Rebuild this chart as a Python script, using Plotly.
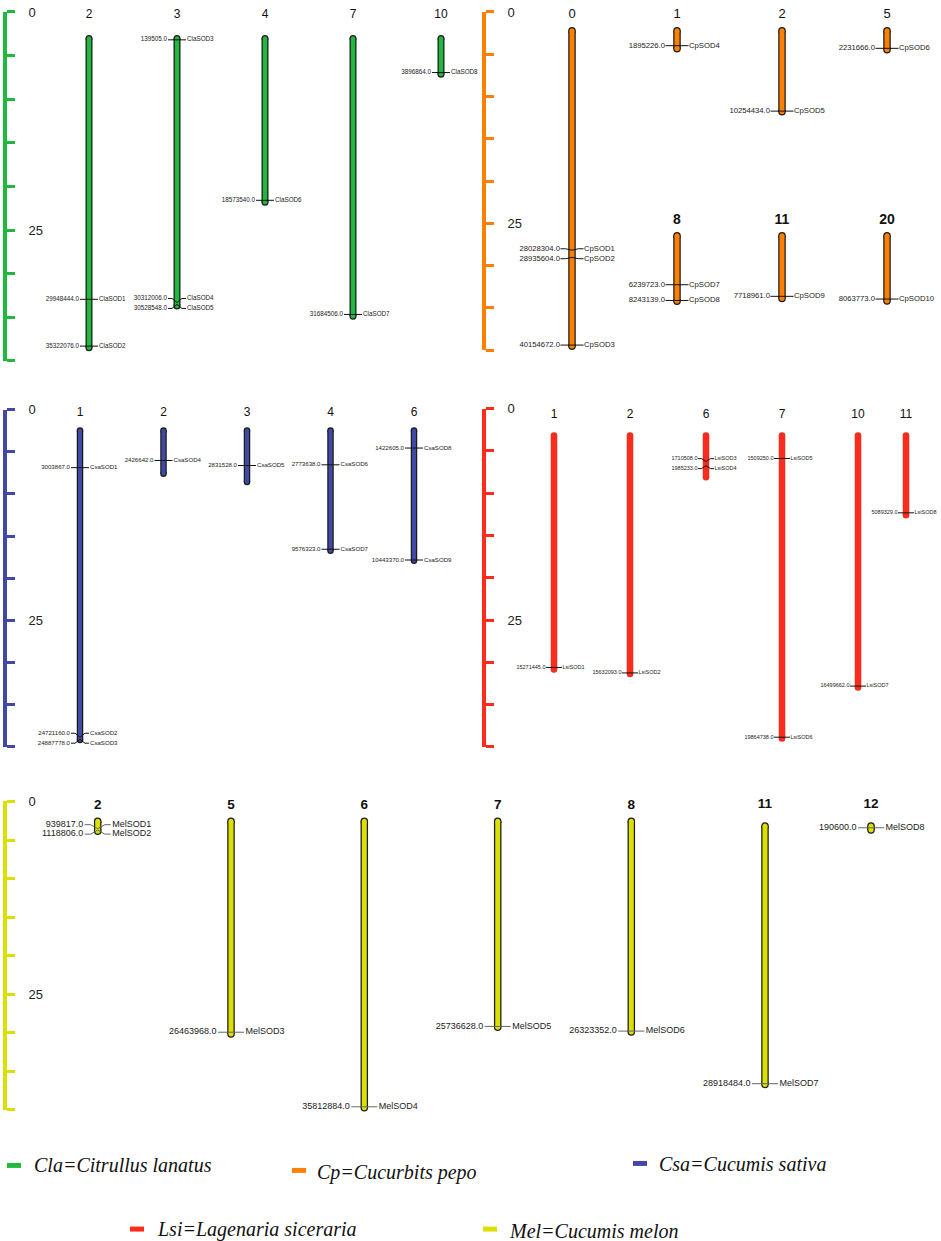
import plotly.graph_objects as go

W, H = 941, 1241

# ---------------- data ----------------
# chromosome lengths in Mb, gene positions in bp
cla_chr = ["2", "3", "4", "7", "10"]
cla_len = [35.5, 30.7, 18.8, 31.9, 4.1]
cla_gene = ["ClaSOD1", "ClaSOD2", "ClaSOD3", "ClaSOD4", "ClaSOD5", "ClaSOD6", "ClaSOD7", "ClaSOD8"]
cla_gene_chr = ["2", "2", "3", "3", "3", "4", "7", "10"]
cla_gene_pos = [29948444, 35322076, 139505, 30312006, 30528548, 18573540, 31684506, 3896864]

cp_chr = ["0", "1", "2", "5", "8", "11", "20"]
cp_len = [40.3, 2.3, 10.35, 2.4, 8.35, 8.0, 8.3]
cp_gene = ["CpSOD1", "CpSOD2", "CpSOD3", "CpSOD4", "CpSOD5", "CpSOD6", "CpSOD7", "CpSOD8", "CpSOD9", "CpSOD10"]
cp_gene_chr = ["0", "0", "0", "1", "2", "5", "8", "8", "11", "20"]
cp_gene_pos = [28028304, 28935604, 40154672, 1895226, 10254434, 2231666, 6239723, 8243139, 7718961, 8063773]

csa_chr = ["1", "2", "3", "4", "6"]
csa_len = [24.95, 3.5, 4.15, 9.7, 10.5]
csa_gene = ["CsaSOD1", "CsaSOD2", "CsaSOD3", "CsaSOD4", "CsaSOD5", "CsaSOD6", "CsaSOD7", "CsaSOD8", "CsaSOD9"]
csa_gene_chr = ["1", "1", "1", "2", "3", "4", "4", "6", "6"]
csa_gene_pos = [3003867, 24721160, 24887778, 2426642, 2831528, 2773638, 9576323, 1422605, 10443370]

lsi_chr = ["1", "2", "6", "7", "10", "11"]
lsi_len = [15.4, 15.7, 2.75, 19.95, 16.6, 5.25]
lsi_gene = ["LsiSOD1", "LsiSOD2", "LsiSOD3", "LsiSOD4", "LsiSOD5", "LsiSOD6", "LsiSOD7", "LsiSOD8"]
lsi_gene_chr = ["1", "2", "6", "6", "7", "7", "10", "11"]
lsi_gene_pos = [15271445, 15632093, 1710508, 1985233, 1509250, 19864738, 16499662, 5089329]

mel_chr = ["2", "5", "6", "7", "8", "11", "12"]
mel_len = [1.25, 26.7, 35.95, 25.85, 26.45, 29.0, 0.45]
mel_gene = ["MelSOD1", "MelSOD2", "MelSOD3", "MelSOD4", "MelSOD5", "MelSOD6", "MelSOD7", "MelSOD8"]
mel_gene_chr = ["2", "2", "5", "6", "7", "8", "11", "12"]
mel_gene_pos = [939817, 1118806, 26463968, 35812884, 25736628, 26323352, 28918484, 190600]

ruler_ticks = [0, 5, 10, 15, 20, 25, 30, 35, 40]
ruler_text = ["0", "", "", "", "", "25", "", "", ""]

legend_code = ["Cla", "Cp", "Csa", "Lsi", "Mel"]
legend_name = ["Citrullus lanatus", "Cucurbits pepo", "Cucumis sativa", "Lagenaria siceraria", "Cucumis melon"]

# ---------------- styling / layout ----------------
SANS = "Liberation Sans, Arial, sans-serif"
SERIF = "Liberation Serif, Times New Roman, serif"

colors = {"Cla": "#20b83e", "Cp": "#ff8000", "Csa": "#4049a6", "Lsi": "#ff2b1c", "Mel": "#dbe000"}

species = {
    "Cla": (cla_chr, cla_len, cla_gene, cla_gene_chr, cla_gene_pos),
    "Cp": (cp_chr, cp_len, cp_gene, cp_gene_chr, cp_gene_pos),
    "Csa": (csa_chr, csa_len, csa_gene, csa_gene_chr, csa_gene_pos),
    "Lsi": (lsi_chr, lsi_len, lsi_gene, lsi_gene_chr, lsi_gene_pos),
    "Mel": (mel_chr, mel_len, mel_gene, mel_gene_chr, mel_gene_pos),
}

# each group: chromosomes drawn on one y axis (top = px of 0 Mb, s = px per Mb)
groups = [
    dict(sp="Cla", chrs=["2", "3", "4", "7", "10"], cx=[89, 177, 265, 353, 441], top=31.8, s=8.755,
         box=(0, 365), lab_px=8, lab_font=dict(family=SANS, size=12, color="#111"),
         edge="#1a1a1a", w=7, wi=4.5, gsize=6.3, hl=9, gap=10, gline="#111", sep=10),
    dict(sp="Cp", chrs=["0", "1", "2", "5"], cx=[572, 677, 782, 887], top=24, s=7.87,
         box=(0, 365), lab_px=8, lab_font=dict(family=SANS, size=13, color="#111"),
         edge="#1a1a1a", w=7.5, wi=5, gsize=7.7, hl=11.5, gap=12, gline="#111", sep=10),
    dict(sp="Cp", chrs=["8", "11", "20"], cx=[677, 782, 887], top=230, s=7.9,
         box=(195, 365), lab_px=215, lab_font=dict(family=SANS, size=14, color="#111", weight="bold"),
         edge="#1a1a1a", w=7.5, wi=5, gsize=7.7, hl=11.5, gap=12, gline="#111", sep=10),
    dict(sp="Csa", chrs=["1", "2", "3", "4", "6"], cx=[80, 163.5, 247, 330.5, 414], top=425.8, s=12.48,
         box=(390, 755), lab_px=408, lab_font=dict(family=SANS, size=12, color="#111"),
         edge="#1a1a1a", w=6.5, wi=4, gsize=6.1, hl=9, gap=10, gline="#111", sep=10),
    dict(sp="Lsi", chrs=["1", "2", "6", "7", "10", "11"], cx=[554, 630, 706, 782, 858, 906], top=431, s=15.27,
         box=(390, 755), lab_px=410, lab_font=dict(family=SANS, size=12, color="#111"),
         edge="#c8342a", w=6.5, wi=5.2, gsize=5.5, hl=8, gap=8.5, gline="#111", sep=10),
    dict(sp="Mel", chrs=["2", "5", "6", "7", "8"], cx=[97.7, 231, 364.3, 497.7, 631.3], top=818.8, s=8.02,
         box=(785, 1125), lab_px=803, lab_font=dict(family=SANS, size=13.5, color="#111", weight="bold"),
         edge="#1a1a1a", w=7.5, wi=5, gsize=9, hl=13, gap=14.5, gline="#666", sep=9.5),
    dict(sp="Mel", chrs=["11", "12"], cx=[765, 871], top=823.7, s=8.96,
         box=(785, 1125), lab_px=802.5, lab_font=dict(family=SANS, size=13.5, color="#111", weight="bold"),
         edge="#1a1a1a", w=7.5, wi=5, gsize=9, hl=13, gap=14.5, gline="#666", sep=9.5),
]

rulers = [
    dict(sp="Cla", x=5, y0=5, y1=356),
    dict(sp="Cp", x=484, y0=5, y1=345),
    dict(sp="Csa", x=5, y0=405, y1=744),
    dict(sp="Lsi", x=484, y0=404, y1=744),
    dict(sp="Mel", x=5, y0=799, y1=1109),
]

legend_swatch = [(7, 1165), (292, 1170), (633, 1163), (130, 1229), (483, 1229)]
legend_text = [(32, 1165), (315, 1172), (657, 1164), (155, 1229), (507, 1231)]


def spread(vals, sep):
    # push labels of genes that sit too close together apart, around their mean
    order = sorted(range(len(vals)), key=lambda i: vals[i])
    out = list(vals)
    clusters = []
    for i in order:
        if clusters and vals[i] - vals[clusters[-1][-1]] < sep:
            clusters[-1].append(i)
        else:
            clusters.append([i])
    for cl in clusters:
        m = sum(vals[i] for i in cl) / len(cl)
        n = len(cl)
        for k, i in enumerate(cl):
            out[i] = m + (k - (n - 1) / 2) * sep
    return out


fig = go.Figure()
layout_axes = {}
ax_n = 0

for g in groups:
    ax_n += 1
    yid = "y" if ax_n == 1 else f"y{ax_n}"
    yname = "yaxis" if ax_n == 1 else f"yaxis{ax_n}"
    b0, b1 = g["box"]
    top, s = g["top"], g["s"]
    layout_axes[yname] = dict(domain=[1 - b1 / H, 1 - b0 / H], range=[(b1 - top) / s, (b0 - top) / s],
                              visible=False, anchor="x")
    chrs, lens, genes, gchr, gpos = species[g["sp"]]
    col = colors[g["sp"]]

    # chromosomes: dark outline underneath, coloured body on top, round ends via markers
    xs, ys = [], []
    for c, cx in zip(g["chrs"], g["cx"]):
        xs += [cx, cx, None]
        ys += [0, lens[chrs.index(c)], None]
    for clr, wd in [(g["edge"], g["w"]), (col, g["wi"])]:
        fig.add_trace(go.Scatter(x=xs, y=ys, yaxis=yid, mode="lines+markers",
                                 line=dict(color=clr, width=wd), marker=dict(color=clr, size=wd),
                                 cliponaxis=False, hoverinfo="skip", showlegend=False))

    # chromosome names
    lab_mb = (g["lab_px"] - top) / s
    fig.add_trace(go.Scatter(x=g["cx"], y=[lab_mb] * len(g["cx"]), yaxis=yid, mode="text",
                             text=g["chrs"], textfont=g["lab_font"], textposition="middle center",
                             cliponaxis=False, hoverinfo="skip", showlegend=False))

    # genes
    lx, ly = [], []
    lt_x, lt_y, lt_t, rt_x, rt_y, rt_t = [], [], [], [], [], []
    hl = g["hl"]
    for c, cx in zip(g["chrs"], g["cx"]):
        idx = [i for i, gc in enumerate(gchr) if gc == c]
        pos = [gpos[i] / 1e6 for i in idx]
        labs = spread(pos, g["sep"] / s)
        for i, p, yl in zip(idx, pos, labs):
            lx += [cx - hl, cx - hl * 0.55, cx, cx + hl * 0.55, cx + hl, None]
            ly += [yl, yl, p, yl, yl, None]
            lt_x.append(cx - g["gap"]); lt_y.append(yl); lt_t.append(f"{gpos[i]}.0")
            rt_x.append(cx + g["gap"]); rt_y.append(yl); rt_t.append(genes[i])
    fig.add_trace(go.Scatter(x=lx, y=ly, yaxis=yid, mode="lines", line=dict(color=g["gline"], width=1),
                             cliponaxis=False, hoverinfo="skip", showlegend=False))
    gf = dict(family=SANS, size=g["gsize"], color="#222")
    fig.add_trace(go.Scatter(x=lt_x, y=lt_y, yaxis=yid, mode="text", text=lt_t, textposition="middle left",
                             textfont=gf, cliponaxis=False, hoverinfo="skip", showlegend=False))
    fig.add_trace(go.Scatter(x=rt_x, y=rt_y, yaxis=yid, mode="text", text=rt_t, textposition="middle right",
                             textfont=gf, cliponaxis=False, hoverinfo="skip", showlegend=False))

# scale rulers
for r in rulers:
    ax_n += 1
    yid = f"y{ax_n}"
    col = colors[r["sp"]]
    layout_axes[f"yaxis{ax_n}"] = dict(
        domain=[1 - r["y1"] / H, 1 - r["y0"] / H], range=[ruler_ticks[-1], ruler_ticks[0]],
        anchor="free", position=r["x"] / W, side="right", showline=True, linewidth=4, linecolor=col,
        ticks="outside", ticklen=8, tickwidth=3, tickcolor=col, tickvals=ruler_ticks, ticktext=ruler_text,
        tickfont=dict(family=SANS, size=13, color="#222"), ticklabelstandoff=11,
        showgrid=False, zeroline=False)
    fig.add_trace(go.Scatter(x=[None], y=[None], yaxis=yid, mode="markers", hoverinfo="skip", showlegend=False))

# legend
shapes, annots = [], []
for code, name, (sx, sy), (tx, ty) in zip(legend_code, legend_name, legend_swatch, legend_text):
    shapes.append(dict(type="rect", xref="paper", yref="paper", x0=sx / W, x1=(sx + 14) / W,
                       y0=1 - (sy + 2.5) / H, y1=1 - (sy - 2.5) / H, fillcolor=colors[code], line=dict(width=0)))
    annots.append(dict(xref="paper", yref="paper", x=tx / W, y=1 - ty / H, xanchor="left", yanchor="middle",
                       showarrow=False, text=f"{code}={name}",
                       font=dict(family=SERIF, size=20, color="#111", style="italic")))

fig.update_layout(
    width=W, height=H, margin=dict(l=0, r=0, t=0, b=0),
    paper_bgcolor="white", plot_bgcolor="rgba(0,0,0,0)", showlegend=False,
    xaxis=dict(domain=[0, 1], range=[0, W], visible=False),
    shapes=shapes, annotations=annots,
    **layout_axes,
)

fig.write_html("out.html", config={"displayModeBar": False},
               post_script="document.body.style.margin='0';")
